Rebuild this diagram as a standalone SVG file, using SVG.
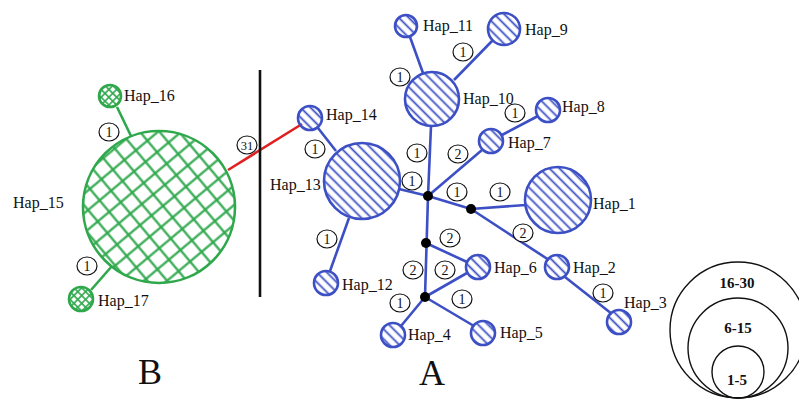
<svg xmlns="http://www.w3.org/2000/svg" width="799" height="403" viewBox="0 0 799 403">
<defs>
  <pattern id="hatchB" patternUnits="userSpaceOnUse" width="10" height="7" patternTransform="rotate(45)">
    <line x1="0" y1="3.5" x2="10" y2="3.5" stroke="#3c4fc4" stroke-width="1.8"/>
  </pattern>
  <pattern id="crossG" patternUnits="userSpaceOnUse" width="15" height="15" patternTransform="rotate(50)">
    <line x1="0" y1="7.5" x2="15" y2="7.5" stroke="#2fa84c" stroke-width="2.2"/>
    <line x1="7.5" y1="0" x2="7.5" y2="15" stroke="#2fa84c" stroke-width="2.2"/>
  </pattern>
  <pattern id="crossGs" patternUnits="userSpaceOnUse" width="5.5" height="5.5" patternTransform="rotate(45)">
    <line x1="0" y1="2.75" x2="5.5" y2="2.75" stroke="#2fa84c" stroke-width="1.6"/>
    <line x1="2.75" y1="0" x2="2.75" y2="5.5" stroke="#2fa84c" stroke-width="1.6"/>
  </pattern>
</defs>
<style>
  .hb { fill: url(#hatchB); stroke: #3c4fc4; stroke-width: 2.6; }
  .gb { fill: url(#crossG); stroke: #2fa84c; stroke-width: 2.6; }
  .gs { fill: url(#crossGs); stroke: #2fa84c; stroke-width: 2.6; }
  .eb { stroke: #3c4fc4; stroke-width: 2.6; fill: none; }
  .eg { stroke: #2fa84c; stroke-width: 2.6; fill: none; }
  .jn { fill: #000; }
  .lbl { font-family: "Liberation Serif", "Times New Roman", serif; font-size: 16px; fill: #111; }
  .mc { fill: #fff; stroke: #111; stroke-width: 1.2; }
  .mt { font-family: "Liberation Serif", "Times New Roman", serif; font-size: 14px; fill: #111; text-anchor: middle; }
  .big { font-family: "Liberation Serif", "Times New Roman", serif; font-size: 36px; fill: #111; text-anchor: middle; }
  .leg { fill: none; stroke: #111; stroke-width: 1.4; }
  .legt { font-family: "Liberation Serif", "Times New Roman", serif; font-size: 15px; font-weight: bold; fill: #111; text-anchor: middle; }
</style>
<rect width="799" height="403" fill="#fff"/>

<g id="connectors">
  <line class="eg" x1="117" y1="107" x2="131" y2="136"/>
  <line class="eg" x1="91" y1="290" x2="112" y2="266"/>
  <line x1="228" y1="170" x2="302" y2="124" stroke="#e02020" stroke-width="2.6"/>
  <line x1="260" y1="70" x2="260" y2="297" stroke="#111" stroke-width="2.6"/>
  <line class="eb" x1="410" y1="37" x2="423" y2="73"/>
  <line class="eb" x1="493" y1="40" x2="454" y2="80"/>
  <line class="eb" x1="431" y1="126" x2="428" y2="196"/>
  <line class="eb" x1="318" y1="128" x2="336" y2="151"/>
  <line class="eb" x1="399" y1="189" x2="428" y2="196"/>
  <line class="eb" x1="428" y1="196" x2="482" y2="150"/>
  <line class="eb" x1="502" y1="135" x2="538" y2="116"/>
  <line class="eb" x1="428" y1="196" x2="471" y2="209"/>
  <line class="eb" x1="471" y1="209" x2="526" y2="205"/>
  <line class="eb" x1="471" y1="209" x2="549" y2="260"/>
  <line class="eb" x1="565" y1="277" x2="612" y2="314"/>
  <line class="eb" x1="428" y1="196" x2="425" y2="297"/>
  <line class="eb" x1="426" y1="243" x2="467" y2="262"/>
  <line class="eb" x1="425" y1="297" x2="467" y2="273"/>
  <line class="eb" x1="425" y1="297" x2="401" y2="326"/>
  <line class="eb" x1="425" y1="297" x2="474" y2="326"/>
  <line class="eb" x1="349" y1="218" x2="330" y2="271"/>
</g>

<g id="mutations">
  <ellipse class="mc" cx="109" cy="132" rx="10" ry="9"/><text class="mt" x="109" y="137">1</text>
  <ellipse class="mc" cx="87" cy="266" rx="10" ry="9"/><text class="mt" x="87" y="271">1</text>
  <ellipse class="mc" cx="247" cy="145" rx="10" ry="9"/><text class="mt" x="247" y="149.5" style="font-size:12.5px">31</text>
  <ellipse class="mc" cx="400" cy="77" rx="10" ry="9"/><text class="mt" x="400" y="82">1</text>
  <ellipse class="mc" cx="463" cy="52" rx="10" ry="9"/><text class="mt" x="463" y="57">1</text>
  <ellipse class="mc" cx="515" cy="113" rx="10" ry="9"/><text class="mt" x="515" y="118">1</text>
  <ellipse class="mc" cx="315" cy="149" rx="10" ry="9"/><text class="mt" x="315" y="154">1</text>
  <ellipse class="mc" cx="417" cy="153" rx="10" ry="9"/><text class="mt" x="417" y="158">1</text>
  <ellipse class="mc" cx="458" cy="154" rx="10" ry="9"/><text class="mt" x="458" y="159">2</text>
  <ellipse class="mc" cx="412" cy="181" rx="10" ry="9"/><text class="mt" x="412" y="186">1</text>
  <ellipse class="mc" cx="457" cy="192" rx="10" ry="9"/><text class="mt" x="457" y="197">1</text>
  <ellipse class="mc" cx="500" cy="192" rx="10" ry="9"/><text class="mt" x="500" y="197">1</text>
  <ellipse class="mc" cx="523" cy="233" rx="10" ry="9"/><text class="mt" x="523" y="238">2</text>
  <ellipse class="mc" cx="450" cy="238" rx="10" ry="9"/><text class="mt" x="450" y="243">2</text>
  <ellipse class="mc" cx="413" cy="270" rx="10" ry="9"/><text class="mt" x="413" y="275">2</text>
  <ellipse class="mc" cx="445" cy="270" rx="10" ry="9"/><text class="mt" x="445" y="275">2</text>
  <ellipse class="mc" cx="400" cy="303" rx="10" ry="9"/><text class="mt" x="400" y="308">1</text>
  <ellipse class="mc" cx="462" cy="299" rx="10" ry="9"/><text class="mt" x="462" y="304">1</text>
  <ellipse class="mc" cx="603" cy="293" rx="10" ry="9"/><text class="mt" x="603" y="298">1</text>
  <ellipse class="mc" cx="327" cy="239" rx="10" ry="9"/><text class="mt" x="327" y="244">1</text>
</g>

<g id="Hap_15"><circle class="gb" cx="159" cy="207" r="76"/><text class="lbl" x="13" y="208">Hap_15</text></g>
<g id="Hap_16"><circle class="gs" cx="110" cy="96" r="11"/><text class="lbl" x="124" y="101">Hap_16</text></g>
<g id="Hap_17"><circle class="gs" cx="81" cy="299" r="12"/><text class="lbl" x="98" y="306">Hap_17</text></g>

<g id="Hap_1"><circle class="hb" cx="558" cy="200" r="33"/><text class="lbl" x="593" y="209">Hap_1</text></g>
<g id="Hap_2"><circle class="hb" cx="557" cy="267" r="12"/><text class="lbl" x="573" y="273">Hap_2</text></g>
<g id="Hap_3"><circle class="hb" cx="619" cy="322" r="12"/><text class="lbl" x="624" y="308">Hap_3</text></g>
<g id="Hap_4"><circle class="hb" cx="393" cy="335" r="12"/><text class="lbl" x="408" y="340">Hap_4</text></g>
<g id="Hap_5"><circle class="hb" cx="483" cy="333" r="12"/><text class="lbl" x="500" y="338">Hap_5</text></g>
<g id="Hap_6"><circle class="hb" cx="478" cy="267" r="12"/><text class="lbl" x="494" y="273">Hap_6</text></g>
<g id="Hap_7"><circle class="hb" cx="491" cy="141" r="12"/><text class="lbl" x="508" y="148">Hap_7</text></g>
<g id="Hap_8"><circle class="hb" cx="548" cy="110" r="12"/><text class="lbl" x="562" y="112">Hap_8</text></g>
<g id="Hap_9"><circle class="hb" cx="504" cy="29" r="16"/><text class="lbl" x="525" y="35">Hap_9</text></g>
<g id="Hap_10"><circle class="hb" cx="432" cy="99" r="27"/><text class="lbl" x="463" y="104">Hap_10</text></g>
<g id="Hap_11"><circle class="hb" cx="406" cy="26" r="11"/><text class="lbl" x="423" y="31">Hap_11</text></g>
<g id="Hap_12"><circle class="hb" cx="326" cy="283" r="12"/><text class="lbl" x="342" y="290">Hap_12</text></g>
<g id="Hap_13"><circle class="hb" cx="362" cy="181" r="38"/><text class="lbl" x="270" y="190">Hap_13</text></g>
<g id="Hap_14"><circle class="hb" cx="310" cy="118" r="12"/><text class="lbl" x="326" y="120">Hap_14</text></g>

<g id="junctions">
  <circle class="jn" cx="428" cy="196" r="5"/>
  <circle class="jn" cx="471" cy="209" r="5"/>
  <circle class="jn" cx="426" cy="243" r="5"/>
  <circle class="jn" cx="425" cy="297" r="5"/>
</g>

<text class="big" x="150" y="384">B</text>
<text class="big" x="432" y="385">A</text>

<g id="legend">
  <circle class="leg" cx="738" cy="330" r="68"/>
  <circle class="leg" cx="738" cy="348" r="50"/>
  <circle class="leg" cx="738" cy="372" r="26"/>
  <text class="legt" x="737" y="288">16-30</text>
  <text class="legt" x="738" y="333">6-15</text>
  <text class="legt" x="737" y="385">1-5</text>
</g>
</svg>
